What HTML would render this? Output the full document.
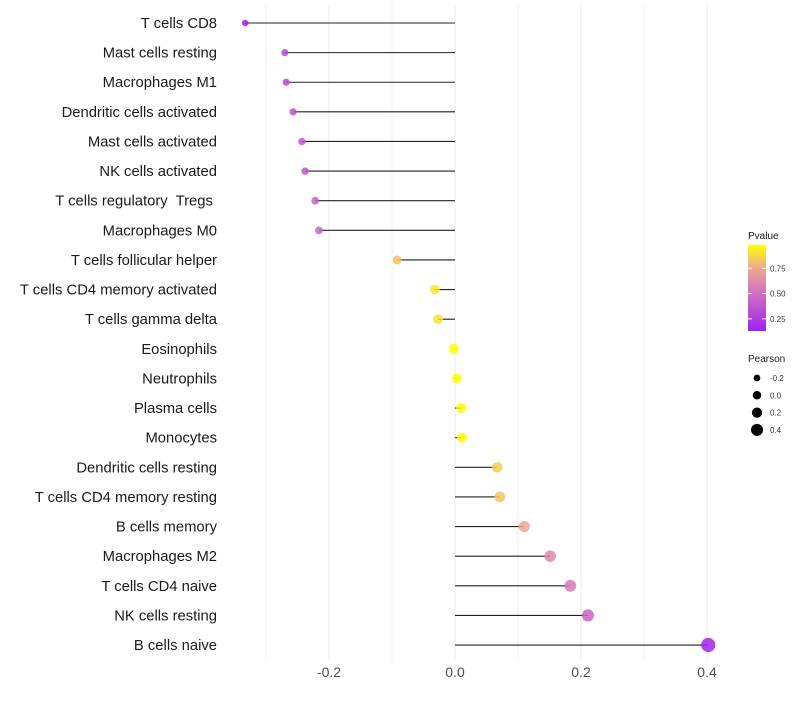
<!DOCTYPE html>
<html><head><meta charset="utf-8"><style>
body{margin:0;background:#fff;font-family:"Liberation Sans",sans-serif}
</style></head><body>
<svg id="c" width="800" height="700" xmlns="http://www.w3.org/2000/svg"></svg>
<script>
const categories=["T cells CD8","Mast cells resting","Macrophages M1","Dendritic cells activated","Mast cells activated","NK cells activated","T cells regulatory\u00a0 Tregs\u00a0","Macrophages M0","T cells follicular helper","T cells CD4 memory activated","T cells gamma delta","Eosinophils","Neutrophils","Plasma cells","Monocytes","Dendritic cells resting","T cells CD4 memory resting","B cells memory","Macrophages M2","T cells CD4 naive","NK cells resting","B cells naive"];
const pearson=[-0.333,-0.27,-0.268,-0.257,-0.243,-0.238,-0.222,-0.216,-0.092,-0.032,-0.027,-0.002,0.003,0.01,0.011,0.067,0.071,0.11,0.151,0.183,0.211,0.402];
const pvalues=[0.12,0.3,0.3,0.35,0.38,0.38,0.42,0.45,0.82,0.92,0.9,0.99,0.99,0.97,0.97,0.85,0.83,0.75,0.62,0.55,0.45,0.13];
const xTicks=[-0.2,0,0.2,0.4];
const xTickLabels=["-0.2","0.0","0.2","0.4"];
const minorTicks=[-0.3,-0.1,0.1,0.3];
const pTicks=[0.25,0.5,0.75];
const sizeTicks=[-0.2,0.0,0.2,0.4];

const NS="http://www.w3.org/2000/svg",svg=document.getElementById('c');
const x=v=>455+v*630;
const y=i=>23+i*29.62;
const r=v=>Math.max(1.5,5+5.2*v);
const stops=[[0.12,[160,32,240]],[0.5,[208,112,192]],[0.75,[235,168,150]],[0.98,[255,255,0]]];
function col(p){if(p<=stops[0][0])return rgb(stops[0][1]);for(let k=1;k<stops.length;k++){if(p<=stops[k][0]){const t=(p-stops[k-1][0])/(stops[k][0]-stops[k-1][0]);return rgb(stops[k-1][1].map((a,j)=>Math.round(a+(stops[k][1][j]-a)*t)));}}return rgb(stops[stops.length-1][1]);}
function rgb(a){return `rgb(${a[0]},${a[1]},${a[2]})`;}
function el(t,a,txt){const e=document.createElementNS(NS,t);for(const k in a)e.setAttribute(k,a[k]);if(txt!==undefined)e.textContent=txt;svg.appendChild(e);return e;}
minorTicks.forEach(v=>{const e=el('line',{x1:x(v),x2:x(v),y1:5,y2:660,stroke:'#f2f2f2','stroke-width':1});

});
xTicks.forEach((v,i)=>{const g=el('line',{x1:x(v),x2:x(v),y1:5,y2:660,stroke:'#ebebeb','stroke-width':1});


const t=el('text',{x:x(v),y:677,'text-anchor':'middle','font-size':14,fill:'#4d4d4d'},xTickLabels[i]);

});
categories.forEach((c,i)=>{const t=el('text',{x:217,y:y(i)+5,'text-anchor':'end','font-size':14.8,fill:'#1a1a1a'},c);


const l=el('line',{x1:x(0),x2:x(pearson[i]),y1:y(i),y2:y(i),stroke:'#222','stroke-width':1.1});


const p=el('circle',{cx:x(pearson[i]),cy:y(i),r:r(pearson[i]),fill:col(pvalues[i]),'fill-opacity':0.85});

});
const lt=el('text',{x:748,y:239,'font-size':10,fill:'#1a1a1a'},'Pvalue');


const defs=el('defs',{});
const lg=document.createElementNS(NS,'linearGradient');lg.setAttribute('id','g');lg.setAttribute('x1',0);lg.setAttribute('y1',1);lg.setAttribute('x2',0);lg.setAttribute('y2',0);defs.appendChild(lg);
const lo=0.13,hi=0.98;
[0,0.25,0.5,0.75,1].forEach(f=>{const s=document.createElementNS(NS,'stop');s.setAttribute('offset',f);s.setAttribute('stop-color',col(lo+f*(hi-lo)));lg.appendChild(s);});
const bar=el('rect',{x:748,y:245,width:18,height:86,fill:'url(#g)'});


const py=p=>331-(p-lo)/(hi-lo)*86;
pTicks.forEach(p=>{el('line',{x1:748,x2:752,y1:py(p),y2:py(p),stroke:'#fff'});el('line',{x1:762,x2:766,y1:py(p),y2:py(p),stroke:'#fff'});
const t=el('text',{x:770,y:py(p)+3,'font-size':8,fill:'#333'},p.toFixed(2));

});
const st=el('text',{x:748,y:362,'font-size':10,fill:'#1a1a1a'},'Pearson');


sizeTicks.forEach((v,i)=>{const cy=378+i*17.3;
const c=el('circle',{cx:757,cy:cy,r:r(v)*0.85,fill:'#000'});


const t=el('text',{x:770,y:cy+3,'font-size':8,fill:'#333'},v.toFixed(1));

});
</script>
</body></html>
